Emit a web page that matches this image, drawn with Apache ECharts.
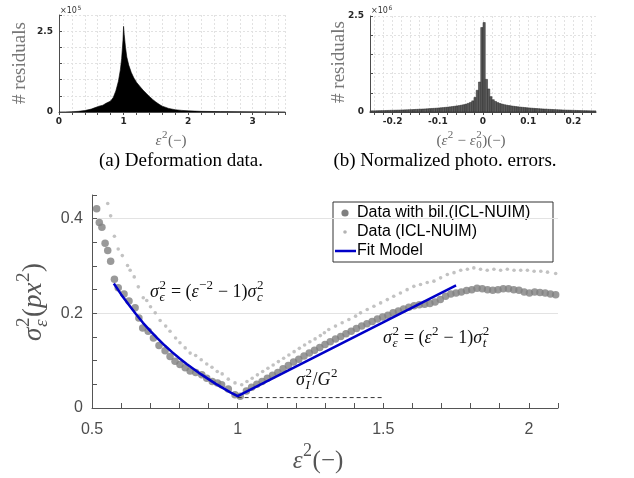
<!DOCTYPE html>
<html>
<head>
<meta charset="utf-8">
<script src="https://cdn.jsdelivr.net/npm/echarts@6/dist/echarts.min.js"></script>
<style>
  html, body { margin: 0; padding: 0; background: #fff; }
  #chart { width: 634px; height: 478px; }
</style>
</head>
<body>
<div id="chart"></div>
<script>
// (a) deformation histogram, outline of the filled area (counts x 1e5)
const deformX = [0, 0.1, 0.2, 0.3, 0.4, 0.5, 0.54, 0.57, 0.62, 0.68, 0.72, 0.76, 0.8, 0.84, 0.88, 0.92, 0.95, 0.97, 0.99, 1.0,
  1.01, 1.03, 1.05, 1.08, 1.12, 1.16, 1.2, 1.25, 1.3, 1.35, 1.4, 1.45, 1.5, 1.55, 1.6, 1.7, 1.8, 1.9, 2.0, 2.2, 2.5, 3.0, 3.5]
const deformY = [0, 0.003, 0.008, 0.02, 0.045, 0.09, 0.12, 0.17, 0.18, 0.21, 0.26, 0.3, 0.34, 0.45, 0.65, 0.95, 1.3, 1.65, 2.2, 2.65,
  2.4, 2.0, 1.7, 1.45, 1.22, 1.05, 0.92, 0.8, 0.68, 0.58, 0.48, 0.39, 0.31, 0.24, 0.18, 0.11, 0.07, 0.05, 0.035, 0.02, 0.012, 0.006, 0.002]

// (b) photometric error histogram, bins of 0.005 from -0.25 (counts x 1e6)
const photoBinStart = -0.25
const photoBinWidth = 0.005
const photoLeft = [0.030, 0.031, 0.032, 0.034, 0.035, 0.037, 0.038, 0.040, 0.042, 0.044,
  0.045, 0.047, 0.049, 0.051, 0.053, 0.055, 0.057, 0.060, 0.062, 0.065,
  0.068, 0.071, 0.074, 0.077, 0.080, 0.084, 0.088, 0.092, 0.096, 0.100,
  0.105, 0.110, 0.115, 0.121, 0.127, 0.134, 0.142, 0.150, 0.158, 0.167,
  0.178, 0.190, 0.205, 0.225, 0.250, 0.290, 0.380, 0.565, 0.780, 2.200]
const photoRight = [2.330, 0.850, 0.600, 0.400, 0.320, 0.275, 0.245, 0.222, 0.205, 0.190,
  0.178, 0.168, 0.158, 0.150, 0.142, 0.135, 0.128, 0.122, 0.116, 0.110,
  0.105, 0.100, 0.095, 0.091, 0.087, 0.083, 0.079, 0.076, 0.072, 0.069,
  0.066, 0.063, 0.060, 0.057, 0.055, 0.052, 0.050, 0.048, 0.046, 0.044,
  0.042, 0.040, 0.038, 0.037, 0.035, 0.034, 0.032, 0.031, 0.030, 0.029]
const photoTicks = [-0.24, -0.22, -0.2, -0.18, -0.16, -0.14, -0.12, -0.1, -0.08, -0.06, -0.04, -0.02, 0,
  0.02, 0.04, 0.06, 0.08, 0.1, 0.12, 0.14, 0.16, 0.18, 0.2, 0.22, 0.24]
const photoLabels = [-0.2, -0.1, 0, 0.1, 0.2]

// main plot: variance against deformation
const bilX = [0.516, 0.525, 0.534, 0.545, 0.554, 0.564, 0.577, 0.590, 0.610, 0.627, 0.648, 0.661, 0.674, 0.693, 0.711,
  0.730, 0.751, 0.768, 0.785, 0.802, 0.820, 0.837, 0.856, 0.877, 0.894, 0.913, 0.931, 0.945, 0.968, 0.991,
  1.009, 1.030, 1.048, 1.066, 1.084, 1.102, 1.120, 1.138, 1.156, 1.174, 1.192, 1.210, 1.228, 1.246, 1.264,
  1.282, 1.300, 1.318, 1.336, 1.354, 1.372, 1.390, 1.408, 1.426, 1.444, 1.462, 1.480, 1.498, 1.516, 1.534,
  1.552, 1.570, 1.588, 1.606, 1.624, 1.642, 1.660, 1.678, 1.696, 1.714, 1.732, 1.750, 1.768, 1.786, 1.804,
  1.822, 1.840, 1.858, 1.876, 1.894, 1.912, 1.930, 1.948, 1.966, 1.984, 2.002, 2.020, 2.038, 2.056, 2.074, 2.092]
const bilY = [0.421, 0.392, 0.382, 0.348, 0.333, 0.310, 0.272, 0.254, 0.241, 0.226, 0.212, 0.190, 0.169, 0.162, 0.148,
  0.132, 0.121, 0.109, 0.099, 0.092, 0.085, 0.078, 0.075, 0.070, 0.063, 0.056, 0.053, 0.049, 0.040, 0.028,
  0.025, 0.036, 0.044, 0.050, 0.056, 0.063, 0.069, 0.075, 0.083, 0.090, 0.097, 0.103, 0.110, 0.116, 0.122,
  0.128, 0.134, 0.140, 0.146, 0.151, 0.157, 0.162, 0.168, 0.173, 0.178, 0.183, 0.188, 0.192, 0.196, 0.201,
  0.205, 0.209, 0.213, 0.216, 0.218, 0.219, 0.221, 0.224, 0.229, 0.236, 0.241, 0.243, 0.245, 0.248, 0.250,
  0.253, 0.252, 0.250, 0.249, 0.250, 0.252, 0.252, 0.250, 0.249, 0.245, 0.243, 0.245, 0.244, 0.243, 0.241, 0.239]
const rawX = [0.554, 0.564, 0.577, 0.590, 0.604, 0.622, 0.631, 0.645, 0.659, 0.676, 0.688, 0.701, 0.717, 0.734, 0.753,
  0.768, 0.787, 0.802, 0.820, 0.837, 0.856, 0.875, 0.894, 0.912, 0.930, 0.947, 0.968, 0.991,
  1.014, 1.032, 1.050, 1.068, 1.086, 1.104, 1.122, 1.140, 1.158, 1.176, 1.194, 1.212, 1.230, 1.248, 1.266,
  1.284, 1.298, 1.313, 1.336, 1.359, 1.382, 1.405, 1.422, 1.445, 1.468, 1.491, 1.514, 1.536, 1.559, 1.582,
  1.605, 1.628, 1.651, 1.674, 1.697, 1.720, 1.743, 1.766, 1.789, 1.811, 1.834, 1.857, 1.880, 1.903, 1.926,
  1.949, 1.972, 1.995, 2.018, 2.041, 2.064, 2.092]
const rawY = [0.432, 0.406, 0.363, 0.336, 0.322, 0.301, 0.291, 0.277, 0.256, 0.233, 0.227, 0.214, 0.201, 0.185, 0.173,
  0.162, 0.148, 0.138, 0.127, 0.116, 0.111, 0.102, 0.093, 0.086, 0.077, 0.072, 0.061, 0.053,
  0.049, 0.056, 0.063, 0.070, 0.077, 0.084, 0.091, 0.098, 0.105, 0.112, 0.119, 0.126, 0.133, 0.140, 0.146,
  0.153, 0.159, 0.166, 0.173, 0.180, 0.187, 0.194, 0.201, 0.208, 0.215, 0.222, 0.229, 0.236, 0.243, 0.250,
  0.257, 0.261, 0.265, 0.268, 0.275, 0.282, 0.286, 0.291, 0.293, 0.296, 0.293, 0.291, 0.293, 0.291, 0.293,
  0.291, 0.291, 0.291, 0.289, 0.289, 0.287, 0.284]
const fitX = [0.575, 0.60, 0.625, 0.65, 0.675, 0.70, 0.725, 0.75, 0.775, 0.80, 0.825, 0.85, 0.875, 0.90, 0.925, 0.95, 0.975, 1.00, 1.75]
const fitY = [0.263, 0.240, 0.219, 0.199, 0.180, 0.163, 0.147, 0.132, 0.118, 0.105, 0.093, 0.082, 0.071, 0.061, 0.051, 0.042, 0.033, 0.025, 0.259]
const floorX = [1.0, 1.5]
const floorY = [0.022, 0.022]

const zip = (a, b) => a.map((v, i) => [v, b[i]])
const isMult = (v, m) => Math.abs(v / m - Math.round(v / m)) < 1e-6
const photoData = photoLeft.concat(photoRight).map((h, i) => [photoBinStart + (i + 0.5) * photoBinWidth, h])

// math-ish text made of pieces: [text, italic, sup, sub, subItalic]
const ctx = document.createElement('canvas').getContext('2d')
function measure (text, style, size, family) {
  ctx.font = style + ' ' + size + 'px ' + family
  return ctx.measureText(text).width
}
function mathLabel (pieces, opt) {
  const family = opt.family || 'Liberation Serif'
  const size = opt.size
  const small = Math.round(size * 0.7)
  const kids = []
  let x = 0
  pieces.forEach(p => {
    const [t, it, sup, sub, subIt] = p
    const st = it ? 'italic' : 'normal'
    kids.push({ type: 'text', x: x, y: 0, style: { text: t, fontSize: size, fontFamily: family, fontStyle: st, fill: opt.color, verticalAlign: 'middle' } })
    x += measure(t, st, size, family)
    let w = 0
    if (sup) {
      kids.push({ type: 'text', x: x + 0.5, y: -size * 0.38, style: { text: sup, fontSize: small, fontFamily: family, fill: opt.color, verticalAlign: 'middle' } })
      w = measure(sup, 'normal', small, family)
    }
    if (sub) {
      const sst = subIt ? 'italic' : 'normal'
      kids.push({ type: 'text', x: x + 0.5, y: size * 0.3, style: { text: sub, fontSize: small, fontFamily: family, fontStyle: sst, fill: opt.color, verticalAlign: 'middle' } })
      w = Math.max(w, measure(sub, sst, small, family))
    }
    if (w) x += w + 1
  })
  if (opt.center) kids.forEach(k => { k.x -= x / 2 })
  return { type: 'group', x: opt.x, y: opt.y, rotation: opt.rotate || 0, silent: true, children: kids }
}

const histAxisLine = { onZero: false, lineStyle: { color: '#4d4d4d', width: 1 } }
const histLabel = { color: '#262626', fontFamily: 'DejaVu Sans', fontWeight: 'bold', fontSize: 9, margin: 5 }
const histSplit = { show: true, lineStyle: { color: '#e2e2e2', type: [2, 2], width: 1 } }
const mainLabel = { color: '#4d4d4d', fontFamily: 'Liberation Sans', fontSize: 16 }

const option = {
  animation: false,
  backgroundColor: '#fff',
  grid: [
    { left: 59, top: 15, width: 226, height: 97 },
    { left: 370, top: 16, width: 226, height: 96 },
    { left: 92, top: 195, width: 466, height: 213 }
  ],
  xAxis: [
    {
      gridIndex: 0, type: 'value', min: 0, max: 3.5, interval: 0.2,
      axisLine: histAxisLine,
      axisTick: { length: 3, lineStyle: { color: '#4d4d4d' } },
      axisLabel: { ...histLabel, formatter: v => isMult(v, 1) ? String(Math.round(v)) : '' },
      splitLine: histSplit
    },
    {
      gridIndex: 1, type: 'value', min: -0.25, max: 0.25, interval: 0.05,
      axisLine: histAxisLine,
      axisTick: { length: 3, lineStyle: { color: '#4d4d4d' }, customValues: photoTicks },
      axisLabel: { ...histLabel, customValues: photoLabels, formatter: v => String(+v.toFixed(1)) },
      splitLine: histSplit
    },
    {
      gridIndex: 2, type: 'value', min: 0.5, max: 2.1, interval: 0.1,
      axisLine: { onZero: false, lineStyle: { color: '#555' } },
      axisTick: { inside: true, length: 5, lineStyle: { color: '#555' } },
      axisLabel: { ...mainLabel, margin: 14, formatter: v => isMult(v, 0.5) ? String(+v.toFixed(1)) : '' },
      splitLine: { show: false }
    }
  ],
  yAxis: [
    {
      gridIndex: 0, type: 'value', min: 0, max: 3, interval: 0.5,
      axisLine: histAxisLine,
      axisTick: { inside: true, length: 3, lineStyle: { color: '#4d4d4d' } },
      axisLabel: { ...histLabel, margin: 6, formatter: v => (v === 0 || isMult(v - 2.5, 10)) ? String(v) : '' },
      splitLine: histSplit
    },
    {
      gridIndex: 1, type: 'value', min: 0, max: 2.5, interval: 0.5,
      axisLine: histAxisLine,
      axisTick: { inside: true, length: 3, lineStyle: { color: '#4d4d4d' } },
      axisLabel: { ...histLabel, margin: 6, formatter: v => (v === 0 || isMult(v - 2.5, 10)) ? String(v) : '' },
      splitLine: histSplit
    },
    {
      gridIndex: 2, type: 'value', min: 0, max: 0.45, interval: 0.05,
      axisLine: { show: true, onZero: false, lineStyle: { color: '#555' } },
      axisTick: { show: true, inside: true, length: 5, lineStyle: { color: '#555' } },
      axisLabel: { ...mainLabel, margin: 9, formatter: v => isMult(v, 0.2) ? String(+v.toFixed(2)) : '' },
      splitLine: { show: false }
    },
    {
      // only carries the light grid lines of the main plot
      gridIndex: 2, type: 'value', min: 0, max: 0.45, interval: 0.2,
      axisLine: { show: false }, axisTick: { show: false }, axisLabel: { show: false },
      splitLine: { show: true, showMinLine: false, showMaxLine: false, lineStyle: { color: '#e3e3e3', width: 1 } }
    }
  ],
  series: [
    {
      name: 'deformation', type: 'line', xAxisIndex: 0, yAxisIndex: 0,
      data: zip(deformX, deformY), symbol: 'none',
      lineStyle: { color: '#000', width: 0.6 },
      areaStyle: { color: '#000', opacity: 1 }
    },
    {
      name: 'photo', type: 'custom', xAxisIndex: 1, yAxisIndex: 1,
      data: photoData,
      encode: { x: 0, y: 1 },
      renderItem: (params, api) => {
        const x = api.value(0)
        const p0 = api.coord([x - photoBinWidth / 2, api.value(1)])
        const p1 = api.coord([x + photoBinWidth / 2, 0])
        return {
          type: 'rect',
          shape: { x: p0[0], y: p0[1], width: p1[0] - p0[0], height: p1[1] - p0[1] },
          style: { fill: '#5c5c5c', stroke: '#262626', lineWidth: 0.5 }
        }
      }
    },
    {
      name: 'Data with bil.(ICL-NUIM)', type: 'scatter', xAxisIndex: 2, yAxisIndex: 2,
      data: zip(bilX, bilY), symbolSize: 7.5,
      itemStyle: { color: '#7f7f7f' }
    },
    {
      name: 'Data (ICL-NUIM)', type: 'scatter', xAxisIndex: 2, yAxisIndex: 2,
      data: zip(rawX, rawY), symbolSize: 3.6,
      itemStyle: { color: '#b3b3b3' }
    },
    {
      name: 'noise floor', type: 'line', xAxisIndex: 2, yAxisIndex: 2,
      data: zip(floorX, floorY), symbol: 'none',
      lineStyle: { color: '#333', width: 1, type: [4, 3] }
    },
    {
      name: 'Fit Model', type: 'line', xAxisIndex: 2, yAxisIndex: 2,
      data: zip(fitX, fitY), symbol: 'none', z: 5,
      lineStyle: { color: '#0000c8', width: 2.5 }
    }
  ],
  graphic: [
    // small panel axis captions
    mathLabel([['# residuals', 0]], { x: 20, y: 63, size: 19, color: '#777', rotate: Math.PI / 2, center: true }),
    mathLabel([['# residuals', 0]], { x: 339, y: 62, size: 19, color: '#777', rotate: Math.PI / 2, center: true }),
    mathLabel([['×10', 0, '5']], { x: 60, y: 11, size: 8, color: '#333', family: 'DejaVu Sans' }),
    mathLabel([['×10', 0, '6']], { x: 371, y: 11, size: 8, color: '#333', family: 'DejaVu Sans' }),
    mathLabel([['ε', 1, '2'], ['(−)', 0]], { x: 171, y: 141, size: 15, color: '#666', center: true }),
    mathLabel([['(', 0], ['ε', 1, '2'], [' − ', 0], ['ε', 1, '2', '0'], [')(−)', 0]], { x: 471, y: 141, size: 15, color: '#666', center: true }),
    { type: 'text', x: 181, y: 161, silent: true, style: { text: '(a) Deformation data.', fontSize: 19, fontFamily: 'Liberation Serif', fill: '#000', align: 'center', verticalAlign: 'middle' } },
    { type: 'text', x: 445, y: 161, silent: true, style: { text: '(b) Normalized photo. errors.', fontSize: 19, fontFamily: 'Liberation Serif', fill: '#000', align: 'center', verticalAlign: 'middle' } },
    // main plot axis names
    mathLabel([['σ', 1, '2', 'ε', 1], ['(', 0], ['px', 1, '2'], [')', 0]], { x: 34, y: 302, size: 27, color: '#555', rotate: Math.PI / 2, center: true }),
    mathLabel([['ε', 1, '2'], ['(−)', 0]], { x: 318, y: 461, size: 25, color: '#555', center: true }),
    // model annotations
    mathLabel([['σ', 1, '2', 'ϵ', 1], [' = (', 0], ['ε', 1, '−2'], [' − 1)', 0], ['σ', 1, '2', 'c', 1]], { x: 150, y: 292, size: 18, color: '#111' }),
    mathLabel([['σ', 1, '2', 'ε', 1], [' = (', 0], ['ε', 1, '2'], [' − 1)', 0], ['σ', 1, '2', 't', 1]], { x: 383, y: 338, size: 18, color: '#111' }),
    mathLabel([['σ', 1, '2', 'I', 1], ['/', 0], ['G', 1, '2']], { x: 296, y: 380, size: 18, color: '#111' }),
    // legend
    {
      type: 'group', x: 333, y: 202, silent: true, z: 10,
      children: [
        { type: 'rect', shape: { x: 0, y: 0, width: 220, height: 60 }, style: { fill: '#fff', stroke: '#333', lineWidth: 1 } },
        { type: 'circle', shape: { cx: 12, cy: 11, r: 3.6 }, style: { fill: '#7f7f7f' } },
        { type: 'circle', shape: { cx: 12, cy: 30, r: 1.8 }, style: { fill: '#b3b3b3' } },
        { type: 'line', shape: { x1: 2, y1: 49, x2: 23, y2: 49 }, style: { stroke: '#0000c8', lineWidth: 2.5 } },
        { type: 'text', x: 24, y: 11, style: { text: 'Data with bil.(ICL-NUIM)', fontSize: 16, fontFamily: 'Liberation Sans', fill: '#000', verticalAlign: 'middle' } },
        { type: 'text', x: 24, y: 30, style: { text: 'Data (ICL-NUIM)', fontSize: 16, fontFamily: 'Liberation Sans', fill: '#000', verticalAlign: 'middle' } },
        { type: 'text', x: 24, y: 49, style: { text: 'Fit Model', fontSize: 16, fontFamily: 'Liberation Sans', fill: '#000', verticalAlign: 'middle' } }
      ]
    }
  ]
}

const chart = echarts.init(document.getElementById('chart'))
chart.setOption(option)
</script>
</body>
</html>
